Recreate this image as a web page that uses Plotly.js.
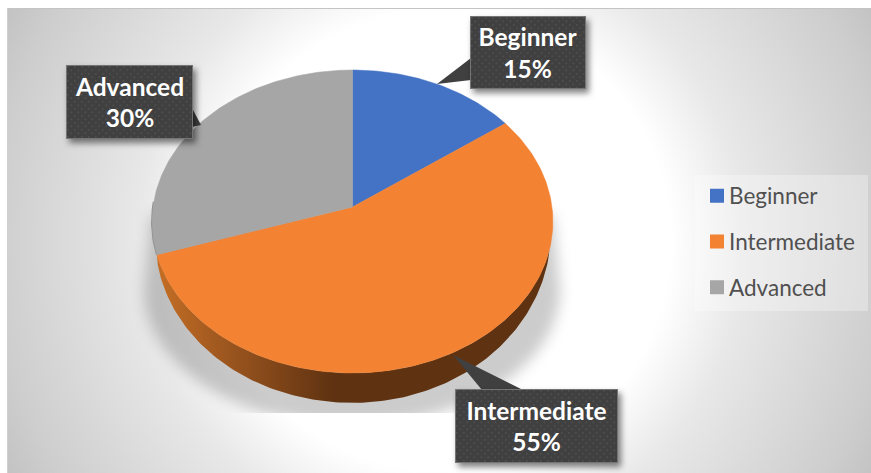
<!DOCTYPE html>
<html>
<head>
<meta charset="utf-8">
<script src="https://cdn.plot.ly/plotly-3.0.1.min.js"></script>
<style>
html,body{margin:0;padding:0;background:#fff;overflow:hidden}
#back{position:absolute;left:7px;top:8px;width:864px;height:465px;box-sizing:border-box;border-top:1px solid #c4c4c4;border-left:1px solid #d0d0d0;
background:radial-gradient(circle 490px at 433px 232px,#ffffff 0%,#ffffff 47%,#e8e8e8 62%,#cdcdcd 92%,#c3c3c3 100%)}
#chart{position:absolute;left:0;top:0;width:871px;height:473px}
</style>
</head>
<body>
<div id="back"></div>
<svg width="0" height="0" style="position:absolute"><defs>
<pattern id="dots" width="7" height="7" patternUnits="userSpaceOnUse">
<rect width="7" height="7" fill="#404040"/>
<rect x="1" y="1" width="1.6" height="1.6" fill="#4f4f4f"/>
<rect x="4.5" y="4.5" width="1.6" height="1.6" fill="#4f4f4f"/>
</pattern>
<clipPath id="cut" clipPathUnits="userSpaceOnUse"><rect x="0" y="0" width="871" height="413"/></clipPath>
</defs></svg>
<div id="chart"></div>
<script>
// Data
const categories = ['Beginner', 'Intermediate', 'Advanced'];
const shares = [15, 55, 30];
const faceColors = ['#4472c4', '#f38232', '#a6a6a6'];

// Tilted-disc projection, expressed in axis units (axes are 1:1 with pixels)
const cx = 352.5, cy = 207, A = 199.5, B = 150.1, K = 0.0957, DEPTH = 27;
function project(deg, drop) {
  const t = deg * Math.PI / 180;
  const u = Math.sin(t), v = -Math.cos(t), d = 1 - K * v;
  return [cx + A * u / d, cy + B * v / d + (drop || 0) / d];
}
function arc(a, b, dropOf) {
  const pts = [], n = Math.max(2, Math.ceil(Math.abs(b - a)));
  for (let i = 0; i <= n; i++) {
    const th = a + (b - a) * i / n;
    pts.push(project(th, dropOf ? dropOf(th) : 0));
  }
  return pts;
}
const traceOf = (pts, extra) => Object.assign({
  type: 'scatter', mode: 'lines', x: pts.map(p => p[0]), y: pts.map(p => p[1]),
  fill: 'toself', line: {width: 0}, showlegend: false, hoverinfo: 'skip'
}, extra);

const total = shares.reduce((s, v) => s + v, 0);
const angles = [0];
shares.forEach(v => angles.push(angles[angles.length - 1] + v / total * 360));

const WALL_START = 106, WALL_END = angles[2];
function wallDrop(th) {
  const q = Math.PI / 2;
  if (th <= 180) return DEPTH * Math.pow(Math.sin((th - WALL_START) / (180 - WALL_START) * q), 0.5);
  return DEPTH * Math.pow(Math.sin((WALL_END - th) / (WALL_END - 180) * q), 0.35);
}

const traces = [];
// soft ground shadow (decorative)
const shadowPts = [[553, 215]];
for (let a = 0; a <= 180; a += 3) {
  const r = a * Math.PI / 180;
  shadowPts.push([352 + 208 * Math.cos(r), 290 + 135 * Math.sin(r)]);
}
shadowPts.push([151, 215]);
traces.push(traceOf(shadowPts, {fillcolor: 'rgba(0,0,0,0.2)'}));
// side wall
const wallOrange = arc(WALL_START, WALL_END).concat(arc(WALL_END, WALL_START, wallDrop));
traces.push(traceOf(wallOrange, {fillgradient: {type: 'horizontal',
  colorscale: [[0, '#c46e25'], [0.2, '#97531e'], [0.45, '#5f3211'], [1, '#5f3211']]}, fillcolor: '#5f3211'}));
const edgeGray = arc(angles[2], 272);
traces.push(traceOf(edgeGray, {fill: 'none', line: {width: 2, color: '#8d8d8d'}}));
// top faces
categories.forEach((name, i) => {
  const pts = [[cx, cy]].concat(arc(angles[i], angles[i + 1]));
  pts.push([cx, cy]);
  traces.push(traceOf(pts, {name: name, fillcolor: faceColors[i], line: {width: 0.5, color: faceColors[i]}}));
});
// legend entries
categories.forEach((name, i) => traces.push({
  type: 'scatter', mode: 'markers', x: [null], y: [null], name: name, legendgroup: name,
  marker: {symbol: 'square', size: 14, color: faceColors[i]}, hoverinfo: 'skip'
}));

const callouts = [
  {i: 0, x: 528, y: 52.5, w: 116, h: 73},
  {i: 1, x: 536.5, y: 426, w: 163, h: 74},
  {i: 2, x: 129.5, y: 102, w: 127, h: 74}
];
const layout = {
  width: 871, height: 473, margin: {l: 0, r: 0, t: 0, b: 0},
  paper_bgcolor: 'rgba(0,0,0,0)', plot_bgcolor: 'rgba(0,0,0,0)',
  font: {family: 'Lato, sans-serif'},
  xaxis: {range: [0, 871], visible: false, fixedrange: true},
  yaxis: {range: [473, 0], visible: false, fixedrange: true},
  legend: {x: 689 / 871, y: 1 - 174.5 / 473, xanchor: 'left', yanchor: 'top', bgcolor: 'rgba(0,0,0,0)',
    font: {size: 22.5, color: '#505050'}, traceorder: 'grouped', tracegroupgap: 13.5, itemclick: false, itemdoubleclick: false},
  shapes: [
    {type: 'rect', layer: 'below', xref: 'x', yref: 'y', x0: 695, x1: 868, y0: 175, y1: 311,
      fillcolor: 'rgba(255,255,255,0.3)', line: {width: 0}},
    {type: 'path', layer: 'above', path: 'M471,58 L437,84 L471,80 Z', fillcolor: '#404040', line: {width: 0}},
    {type: 'path', layer: 'above', path: 'M482,390 L453,355 L523,390 Z', fillcolor: '#404040', line: {width: 0}},
    {type: 'path', layer: 'above', path: 'M192,108 L201,125 L192,127 Z', fillcolor: '#404040', line: {width: 0}}
  ],
  annotations: callouts.map(c => ({
    xref: 'x', yref: 'y', x: c.x, y: c.y, showarrow: false, width: c.w - 2, height: c.h - 2,
    text: categories[c.i] + '<br>' + shares[c.i] + '%', align: 'center', valign: 'middle',
    font: {family: 'Lato, sans-serif', size: 24.5, color: '#ffffff', weight: 700},
    bgcolor: '#404040', bordercolor: '#757575', borderwidth: 1, borderpad: 0
  })),
  showlegend: true
};
Plotly.newPlot('chart', traces, layout, {displayModeBar: false}).then(() => {
  const gd = document.getElementById('chart');
  const first = gd.querySelector('.scatterlayer .trace');
  if (first) {
    first.style.filter = 'blur(7px)';
    first.style.clipPath = 'url(#cut)';
  }
  gd.querySelectorAll('.annotation rect.bg').forEach(r => {
    r.style.setProperty('fill', 'url(#dots)');
    r.style.filter = 'drop-shadow(3px 4px 3px rgba(0,0,0,0.5))';
  });
  gd.querySelectorAll('.legend .legendpoints').forEach(g => g.setAttribute('transform', 'translate(8,0)'));
});
</script>
</body>
</html>
